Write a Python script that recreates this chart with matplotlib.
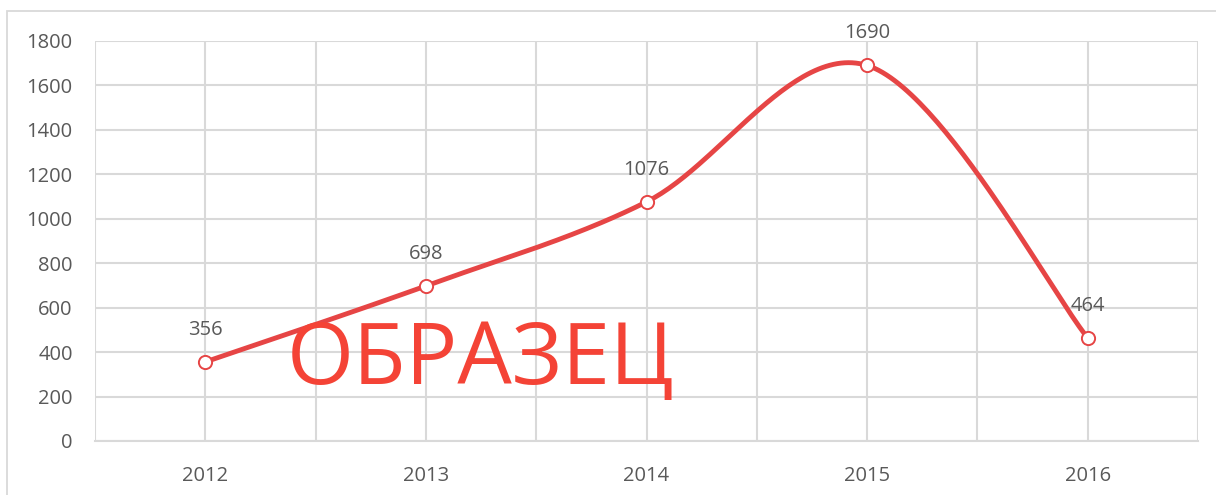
import numpy as np
import matplotlib
matplotlib.use("Agg")
import matplotlib.pyplot as plt
from matplotlib.patches import Rectangle

years = ["2012", "2013", "2014", "2015", "2016"]
values = [356, 698, 1076, 1690, 464]
y_ticks = [0, 200, 400, 600, 800, 1000, 1200, 1400, 1600, 1800]

W, H = 1216, 495
fig = plt.figure(figsize=(W / 100, H / 100), dpi=100)
fig.patch.set_facecolor("white")

left, right, top, bottom = 95, 1198, 41, 441
ax = fig.add_axes([left / W, 1 - bottom / H, (right - left) / W, (bottom - top) / H])

# chart border
fig.patches.append(Rectangle((7 / W, -0.1), 1.2, 1 - 11 / H + 0.1, transform=fig.transFigure,
                             fill=False, edgecolor="#d9d9d9", linewidth=1.3, zorder=0))

x = np.arange(len(years))
y = np.array(values, dtype=float)

# Excel-like smoothed line (Bezier with Catmull-Rom control points), in pixel scale
sx = (right - left) / len(years)
sy = (bottom - top) / 1800.0
P = np.column_stack([x * sx, y * sy])
curve = []
n = len(P)
for i in range(n - 1):
    p0 = P[i - 1] if i > 0 else P[i]
    p1 = P[i]
    p2 = P[i + 1]
    p3 = P[i + 2] if i + 2 < n else P[i + 1]
    c1 = p1 + (p2 - p0) / 6.0
    c2 = p2 - (p3 - p1) / 6.0
    t = np.linspace(0, 1, 60)[:, None]
    seg = (1 - t) ** 3 * p1 + 3 * (1 - t) ** 2 * t * c1 + 3 * (1 - t) * t ** 2 * c2 + t ** 3 * p2
    curve.append(seg if i == 0 else seg[1:])
curve = np.vstack(curve)
cx = curve[:, 0] / sx
cy = curve[:, 1] / sy

red = "#e64545"
ax.plot(cx, cy, color=red, linewidth=3.5, solid_capstyle="round", zorder=3)
ax.plot(x, y, linestyle="none", marker="o", markersize=9.5, markerfacecolor="white",
        markeredgecolor=red, markeredgewidth=1.4, zorder=4)

font = ["Open Sans", "DejaVu Sans"]
for xi, yi in zip(x, values):
    ax.annotate(str(yi), (xi, yi), xytext=(0, 16), textcoords="offset points",
                ha="center", va="bottom", fontsize=14.5, color="#595959",
                family=font, zorder=5)

ax.set_xlim(-0.5, len(years) - 0.5)
ax.set_ylim(0, 1800)
ax.set_yticks(y_ticks)
ax.set_xticks(x)
ax.set_xticklabels(years)
ax.set_xticks(np.arange(-0.5, len(years), 1.0), minor=True)

for s in ["top", "right", "left"]:
    ax.spines[s].set_visible(False)
ax.spines["bottom"].set_color("#d9d9d9")
ax.spines["bottom"].set_linewidth(1.5)

ax.grid(True, which="major", axis="both", color="#d9d9d9", linewidth=1.5)
ax.grid(True, which="minor", axis="x", color="#d9d9d9", linewidth=1.5)
ax.set_axisbelow(True)
ax.tick_params(axis="both", which="both", length=0)
ax.tick_params(axis="y", pad=16)
ax.tick_params(axis="x", pad=18)
for lbl in ax.get_xticklabels() + ax.get_yticklabels():
    lbl.set_fontsize(14.5)
    lbl.set_color("#595959")
    lbl.set_family(font)

fig.text(480 / W, 1 - 384 / H, "ОБРАЗЕЦ", ha="center", va="baseline", fontsize=62,
         color="#f44336", family=font, zorder=10)

fig.savefig("out.png", dpi=100)
